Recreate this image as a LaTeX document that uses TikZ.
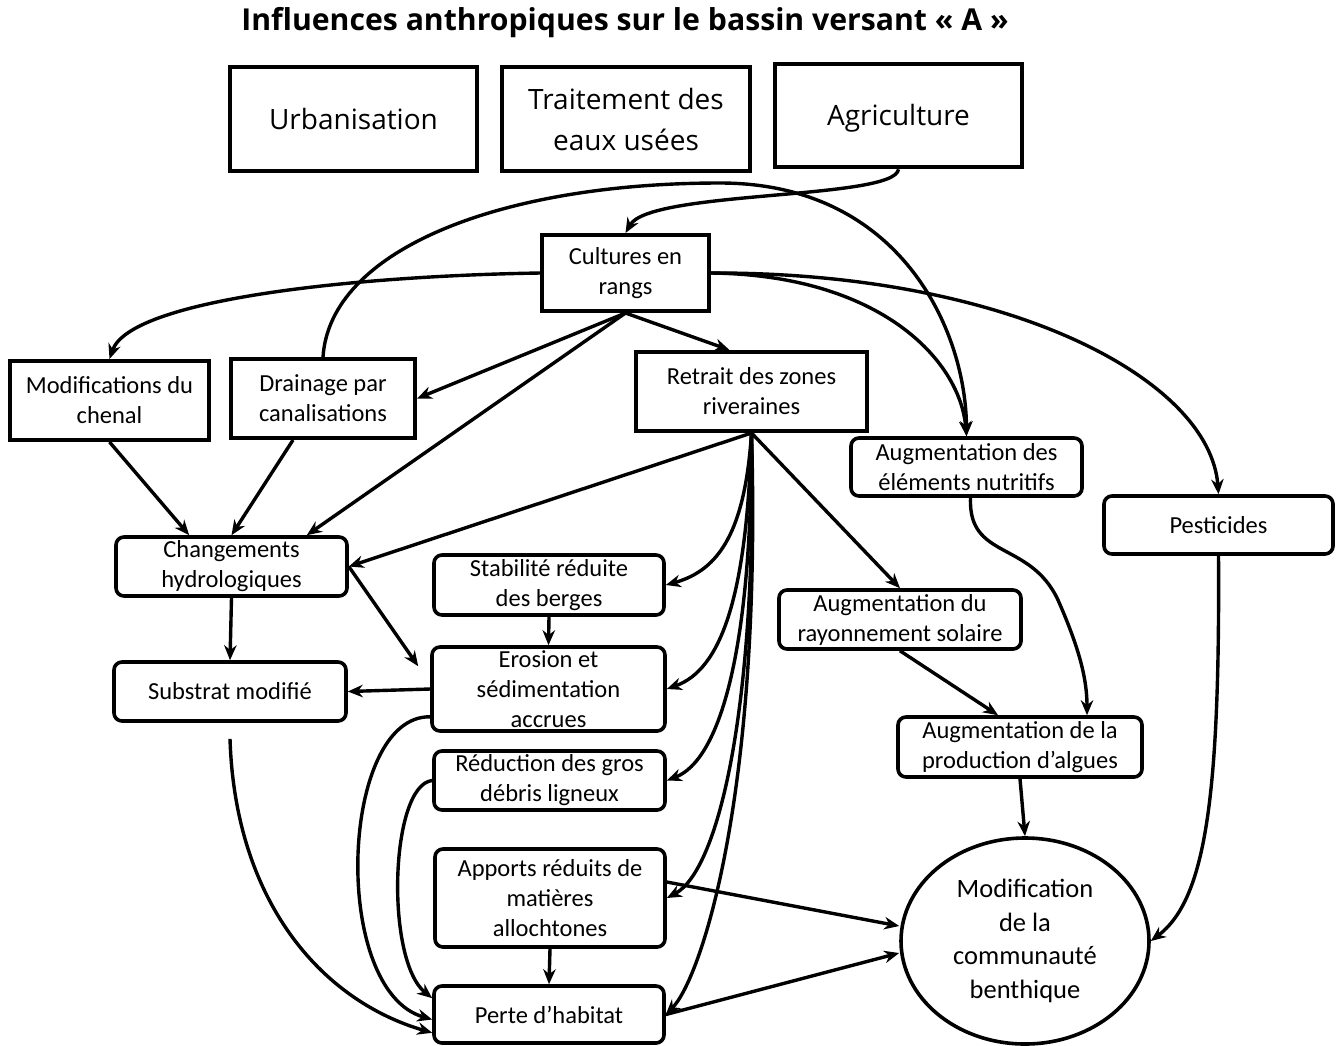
\documentclass[tikz,border=0pt]{standalone}
\usepackage{fontspec}
\setmainfont{Carlito}
\newfontfamily\osans{Open Sans}
\usetikzlibrary{arrows.meta,shapes.geometric,calc}
\begin{document}
\begin{tikzpicture}[x=1pt,y=-1pt,
 box/.style={draw,line width=4pt,align=center,inner sep=0pt,font=\fontsize{24.5}{30}\selectfont},
 topbox/.style={box,line width=4.5pt,font=\osans\fontsize{28}{41}\selectfont},
 rbox/.style={box,rounded corners=8pt,line width=3.6pt},
 arr/.style={line width=3.4pt,-{Stealth[length=15pt,width=12.5pt]}},
]
\useasboundingbox (0,0) rectangle (1340,1045);
\node[font=\osans\bfseries\fontsize{30.2}{36}\selectfont] (title) at (625,23) {Influences anthropiques sur le bassin versant « A »};
\node[topbox,minimum width=247pt,minimum height=104pt] (urb) at (353.5,119) {Urbanisation};
\node[topbox,minimum width=248pt,minimum height=104pt] (trt) at (626,119) {Traitement des\\eaux usées};
\node[topbox,minimum width=247pt,minimum height=103pt,text depth=2pt] (agr) at (898.5,115.5) {Agriculture};
\node[box,minimum width=167pt,minimum height=76pt] (cult) at (625.5,273) {Cultures en\\rangs};
\node[box,minimum width=199pt,minimum height=79pt] (mod) at (109.5,400.5) {Modifications du\\chenal};
\node[box,minimum width=184pt,minimum height=79pt] (drn) at (323,398.5) {Drainage par\\canalisations};
\node[box,minimum width=231pt,minimum height=79pt] (ret) at (751.5,391.5) {Retrait des zones\\riveraines};
\node[rbox,minimum width=231pt,minimum height=58pt] (nut) at (966.5,467) {Augmentation des\\éléments nutritifs};
\node[rbox,minimum width=229pt,minimum height=58pt] (pes) at (1218.5,525) {Pesticides};
\node[rbox,minimum width=231pt,minimum height=59pt] (chg) at (231.5,566.5) {Changements\\hydrologiques};
\node[rbox,minimum width=230pt,minimum height=60pt] (stb) at (549,585) {Stabilité réduite\\des berges};
\node[rbox,minimum width=242pt,minimum height=59pt] (ray) at (900,619.5) {Augmentation du\\rayonnement solaire};
\node[rbox,minimum width=233pt,minimum height=84pt] (ero) at (548.5,689) {Erosion et\\sédimentation\\accrues};
\node[rbox,minimum width=232pt,minimum height=59pt] (sub) at (230,691.5) {Substrat modifié};
\node[rbox,minimum width=244pt,minimum height=60pt] (alg) at (1020,747) {Augmentation de la\\production d’algues};
\node[rbox,minimum width=231pt,minimum height=59pt] (red) at (549.5,780.5) {Réduction des gros\\débris ligneux};
\node[rbox,minimum width=230pt,minimum height=98pt] (app) at (550,898) {Apports réduits de\\matières\\allochtones};
\node[rbox,minimum width=230pt,minimum height=57pt] (per) at (549,1014.5) {Perte d’habitat};
\node[ellipse,draw,line width=3.6pt,inner sep=0pt,minimum width=248pt,minimum height=206pt,align=center,font=\fontsize{26.5}{33.5}\selectfont] (ell) at (1025,941) {Modification\\de la\\communauté\\benthique};

\draw[arr] (agr.south) .. controls (895,200) and (650,190) .. (cult.north);
\draw[arr] (drn.north) .. controls (330,250) and (500,183) .. (720,183) .. controls (900,183) and (966,330) .. (nut.north);
\draw[arr] (cult.west) .. controls (350,276) and (130,300) .. (mod.north);
\draw[arr] (cult.south) -- (drn.east);
\draw[arr] (cult.south) -- ($(chg.north east)+(-42,0)$);
\draw[arr] (cult.south) -- ($(ret.north)+(-22,0)$);
\draw[arr] (cult.east) .. controls (880,275) and (960,360) .. (nut.north);
\draw[arr] (cult.east) .. controls (1010,272) and (1210,380) .. (pes.north);
\draw[arr] (mod.south) -- ($(chg.north west)+(75,0)$);
\draw[arr] ($(drn.south)+(-30,0)$) -- (chg.north);
\draw[arr] (ret.south) -- (chg.east);
\draw[arr] (ret.south) .. controls (745,530) and (720,570) .. (stb.east);
\draw[arr] (ret.south) .. controls (747,600) and (720,670) .. (ero.east);
\draw[arr] (ret.south) .. controls (752,650) and (720,760) .. (red.east);
\draw[arr] (ret.south) .. controls (757,700) and (720,870) .. (app.east);
\draw[arr] (ret.south) .. controls (762,800) and (700,980) .. (per.east);
\draw[arr] (ret.south) -- (ray.north);
\draw[arr] (chg.east) -- ($(ero.north west)+(-12,21)$);
\draw[arr] (chg.south) -- (sub.north);
\draw[arr] (stb.south) -- (ero.north);
\draw[arr] (ero.west) -- (sub.east);
\draw[arr] ($(ero.south west)+(0,-16)$) .. controls (340,715) and (330,990) .. ($(per.west)+(0,5)$);
\draw[arr] (red.west) .. controls (390,785) and (385,960) .. ($(per.north west)+(0,14)$);
\draw[arr] ($(sub.south)+(0,16)$) .. controls (235,900) and (320,1000) .. ($(per.south west)+(0,-12)$);
\draw[arr] (app.south) -- (per.north);
\draw[arr] ($(app.east)+(0,-16)$) -- ($(ell.west)+(0,-15)$);
\draw[arr] (per.east) -- ($(ell.west)+(0,12)$);
\draw[arr] ($(nut.south)+(4,0)$) .. controls (968,560) and (1030,540) .. (1058,600) .. controls (1080,650) and (1087,680) .. ($(alg.north)+(67,0)$);
\draw[arr] (ray.south) -- ($(alg.north)+(-22,0)$);
\draw[arr] (alg.south) -- (ell.north);
\draw[arr] (pes.south) .. controls (1220,800) and (1205,900) .. (ell.east);
\end{tikzpicture}
\end{document}
